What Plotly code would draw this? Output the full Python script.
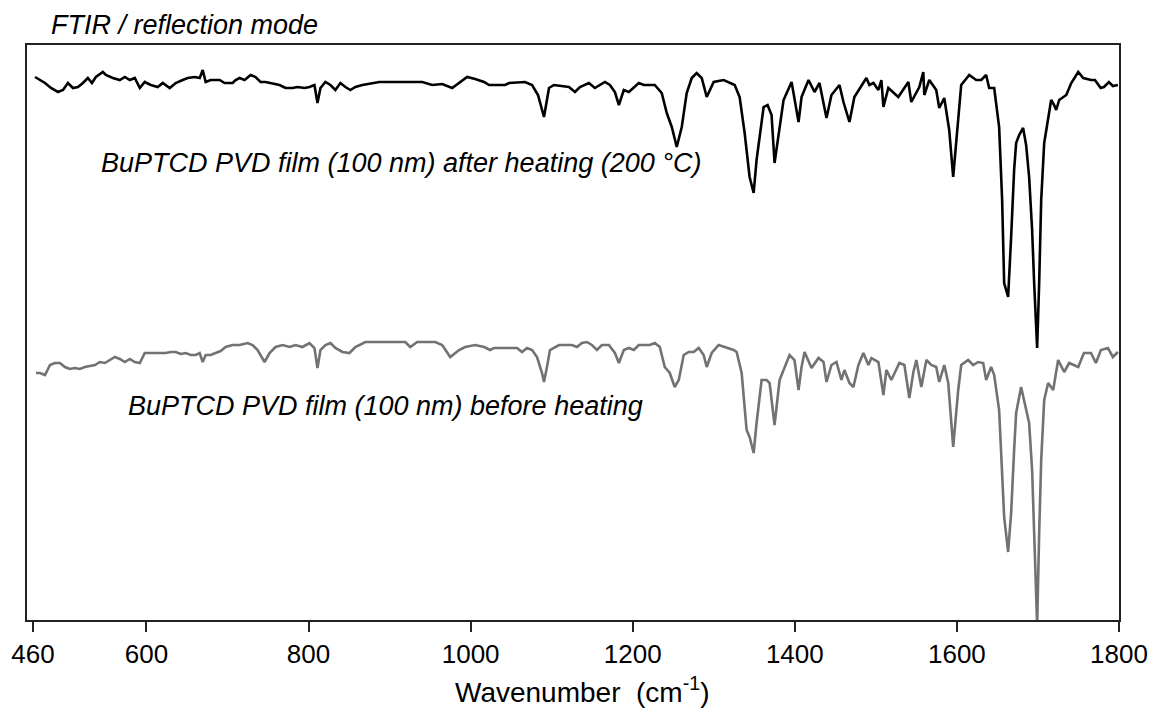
import plotly.graph_objects as go

# ---- data (wavenumber in cm-1, intensity in arbitrary offset units) ----
after_wn = [462.5, 474.8, 482.2, 490.8, 497.0, 503.1, 509.3, 515.4, 521.6, 527.7, 532.7, 537.6, 546.2, 549.9,
            558.5, 567.1, 573.3, 579.5, 585.6, 591.8, 597.9, 605.3, 613.9, 620.1, 628.7, 636.1, 644.7, 650.9,
            659.5, 665.7, 669.4, 673.1, 679.2, 690.3, 696.4, 706.3, 710.0, 714.9, 721.1, 728.5, 734.6, 740.8,
            746.9, 753.1, 764.2, 771.6, 780.2, 786.3, 795.0, 801.1, 807.3, 811.0, 814.7, 820.8, 827.0, 833.1,
            839.3, 845.5, 851.6, 857.8, 866.4, 887.3, 915.7, 940.3, 952.6, 965.0, 977.2, 985.8, 995.7, 1005.6,
            1016.6, 1022.8, 1042.5, 1047.4, 1067.1, 1075.8, 1083.1, 1090.5, 1096.7, 1102.8, 1121.3, 1128.7,
            1134.9, 1145.9, 1153.3, 1165.7, 1171.8, 1178.0, 1182.9, 1189.0, 1195.2, 1207.5, 1213.7, 1227.2,
            1235.8, 1242.0, 1248.2, 1254.3, 1260.5, 1266.6, 1272.8, 1278.9, 1285.1, 1291.3, 1299.9, 1312.2,
            1325.8, 1331.9, 1338.1, 1344.2, 1349.2, 1352.8, 1361.5, 1366.4, 1371.3, 1375.0, 1381.2, 1386.1,
            1396.0, 1404.6, 1408.3, 1416.9, 1424.3, 1430.4, 1439.1, 1445.2, 1455.1, 1460.0, 1467.4, 1473.5,
            1488.3, 1492.0, 1497.0, 1503.1, 1506.8, 1509.3, 1515.4, 1527.7, 1540.1, 1543.7, 1553.6, 1558.5,
            1559.8, 1565.9, 1574.5, 1578.2, 1584.4, 1590.5, 1595.4, 1600.4, 1605.3, 1615.2, 1623.8, 1630.0,
            1636.1, 1639.8, 1646.0, 1652.1, 1655.8, 1658.3, 1663.2, 1666.9, 1670.6, 1673.1, 1676.8, 1681.7,
            1685.4, 1689.1, 1692.8, 1695.3, 1699.0, 1701.5, 1704.0, 1707.7, 1716.3, 1720.0, 1722.5, 1726.2,
            1731.1, 1735.0, 1741.1, 1749.7, 1755.9, 1762.0, 1765.4, 1770.3, 1777.4, 1781.4, 1787.5, 1792.5,
            1798.6]
after_int = [54.3, 53.7, 53.2, 52.8, 53.0, 53.7, 53.2, 53.3, 53.7, 54.2, 53.7, 54.3, 54.8, 54.5,
             54.2, 54.0, 54.3, 54.0, 54.2, 53.2, 53.8, 53.5, 53.3, 53.7, 53.2, 53.7, 54.0, 54.2,
             54.3, 54.2, 55.0, 53.8, 54.0, 54.0, 53.7, 53.7, 54.0, 54.2, 54.0, 54.5, 54.3, 53.8,
             53.8, 53.7, 53.5, 53.2, 53.2, 53.3, 53.2, 53.3, 53.5, 51.7, 53.2, 53.8, 53.5, 53.0,
             53.7, 53.3, 53.0, 53.3, 53.5, 53.8, 53.8, 53.8, 53.5, 53.6, 53.2, 53.7, 54.3, 54.1,
             53.8, 53.5, 53.5, 53.7, 53.8, 53.5, 52.5, 50.3, 53.2, 53.5, 53.3, 52.8,
             53.3, 53.7, 53.2, 53.8, 53.5, 52.8, 51.5, 53.0, 52.8, 53.7, 53.5, 53.5,
             52.7, 50.7, 49.3, 47.3, 49.3, 52.7, 54.2, 54.7, 54.2, 52.3, 53.8, 54.0,
             53.5, 52.3, 48.7, 44.3, 42.7, 46.0, 51.3, 51.5, 50.5, 45.7, 49.3, 52.0,
             53.8, 49.8, 52.3, 54.0, 52.8, 53.7, 50.2, 52.5, 53.5, 51.8, 49.8, 52.3,
             54.2, 53.5, 53.7, 53.0, 54.0, 51.3, 53.2, 52.3, 53.8, 51.8, 53.3, 54.8,
             52.5, 54.0, 53.0, 51.2, 52.2, 49.0, 44.3, 49.0, 53.5, 54.5, 54.0, 54.0,
             54.5, 53.2, 53.2, 49.3, 42.0, 33.7, 32.3, 38.3, 45.0, 47.7, 48.5, 49.2,
             47.5, 44.3, 39.0, 33.7, 27.2, 33.7, 42.0, 47.7, 52.0, 51.5, 51.0, 52.0,
             52.3, 52.5, 53.7, 54.8, 54.2, 54.1, 54.0, 54.0, 53.2, 53.3, 53.8, 53.4,
             53.5]

before_wn = [463.7, 468.6, 474.8, 480.9, 487.1, 493.2, 499.4, 505.6, 511.7, 517.9, 524.0, 530.2, 536.4, 542.5,
             548.7, 554.8, 561.0, 567.1, 573.3, 579.5, 585.6, 591.8, 597.9, 604.1, 611.5, 617.6, 623.8, 629.9,
             636.1, 642.3, 648.4, 654.6, 660.7, 665.7, 669.4, 673.1, 679.2, 685.4, 691.5, 697.7, 706.3, 714.9,
             724.8, 730.9, 737.1, 745.7, 751.9, 759.3, 767.9, 776.5, 783.9, 792.5, 801.1, 807.3, 811.0, 814.7,
             820.8, 827.0, 833.1, 841.8, 850.4, 857.8, 870.1, 891.0, 919.3, 925.5, 934.1, 956.3, 964.9, 974.8,
             985.8, 993.2, 1005.6, 1016.6, 1024.0, 1028.9, 1057.3, 1063.4, 1069.6, 1075.8, 1081.9, 1088.1,
             1090.5, 1094.2, 1097.9, 1109.0, 1125.0, 1131.2, 1137.3, 1143.5, 1149.6, 1155.8, 1162.0, 1170.6,
             1178.0, 1182.9, 1189.0, 1195.2, 1201.4, 1207.5, 1221.1, 1227.2, 1233.4, 1239.5, 1245.7, 1251.8,
             1256.8, 1262.9, 1269.1, 1275.2, 1281.4, 1287.5, 1291.3, 1297.4, 1306.0, 1313.4, 1324.5, 1328.2,
             1334.4, 1340.5, 1344.2, 1349.2, 1352.8, 1359.0, 1365.2, 1368.9, 1375.0, 1381.2, 1387.3, 1393.5,
             1399.6, 1404.6, 1408.3, 1412.0, 1420.6, 1429.2, 1435.4, 1439.1, 1445.2, 1451.4, 1457.5, 1461.2,
             1467.4, 1472.3, 1478.5, 1484.6, 1490.8, 1494.5, 1503.1, 1509.3, 1513.0, 1519.1, 1529.0, 1535.2,
             1541.3, 1546.3, 1549.9, 1556.1, 1562.3, 1568.4, 1574.5, 1578.2, 1584.4, 1589.3, 1595.4, 1601.6,
             1605.3, 1613.9, 1620.1, 1626.2, 1632.4, 1636.1, 1642.2, 1646.0, 1652.1, 1655.8, 1658.3, 1663.2,
             1666.9, 1670.6, 1673.1, 1679.2, 1685.4, 1689.1, 1692.8, 1695.3, 1699.0, 1701.5, 1704.0, 1707.7,
             1712.6, 1718.8, 1724.9, 1732.4, 1738.5, 1749.7, 1756.7, 1765.4, 1771.5, 1777.7, 1786.3, 1792.5,
             1798.6]
before_int = [24.7, 24.7, 24.5, 25.5, 25.7, 25.7, 25.3, 25.1, 25.2, 25.1, 25.3, 25.4, 25.5, 25.8,
              25.7, 26.0, 26.3, 26.1, 25.8, 26.1, 25.8, 25.7, 26.7, 26.7, 26.7, 26.7, 26.7, 26.8,
              26.8, 26.6, 26.7, 26.5, 26.5, 26.7, 25.8, 26.5, 26.5, 26.7, 26.9, 27.3, 27.5, 27.5,
              27.7, 27.5, 27.0, 25.8, 26.7, 27.3, 27.5, 27.3, 27.5, 27.3, 27.7, 27.2, 25.2, 27.0,
              27.5, 27.7, 27.2, 26.8, 26.7, 27.3, 27.8, 27.8, 27.8, 27.3, 27.8, 27.8, 27.5, 26.3,
              27.0, 27.3, 27.5, 27.3, 27.0, 27.2, 27.2, 26.8, 27.2, 27.0, 26.3, 24.7,
              23.8, 25.3, 27.0, 27.5, 27.5, 27.3, 27.7, 27.8, 27.5, 27.0, 27.5, 27.5,
              26.7, 25.7, 27.0, 27.2, 27.0, 27.5, 27.5, 27.7, 27.3, 25.3, 24.7, 23.3,
              24.0, 26.5, 26.8, 26.8, 27.2, 26.5, 25.3, 26.7, 27.5, 27.3, 27.0, 26.8,
              24.7, 19.0, 18.3, 16.7, 19.7, 24.0, 24.0, 23.7, 19.5, 24.0, 25.3, 26.5,
              26.0, 23.0, 25.3, 26.8, 25.2, 26.2, 25.8, 23.8, 25.5, 25.8, 24.0, 25.0,
              23.7, 23.3, 25.5, 26.7, 25.5, 26.2, 25.8, 22.5, 25.0, 24.0, 25.7, 25.5,
              22.2, 24.8, 26.0, 23.3, 26.0, 25.5, 25.3, 23.8, 25.5, 23.7, 17.3, 23.0,
              25.5, 26.0, 25.5, 25.8, 25.7, 24.0, 25.3, 24.5, 21.0, 15.0, 10.3, 6.8,
              10.7, 17.0, 20.7, 23.3, 21.0, 19.7, 15.0, 8.7, -0.5, 8.7, 16.0, 22.0,
              23.7, 23.0, 26.0, 24.8, 25.7, 25.3, 26.7, 26.7, 25.7, 27.0, 27.2, 26.3,
              26.8]

tick_vals = [460, 600, 800, 1000, 1200, 1400, 1600, 1800]
tick_text = ["460", "600", "800", "1000", "1200", "1400", "1600", "1800"]

title_text = "<i>FTIR / reflection mode</i>"
after_label = "<i>BuPTCD PVD film (100 nm) after heating (200 °C)</i>"
before_label = "<i>BuPTCD PVD film (100 nm) before heating</i>"
x_title = "Wavenumber  (cm<sup>-1</sup>)"

FONT = "Arial, 'Liberation Sans', sans-serif"

fig = go.Figure()
fig.add_trace(go.Scatter(x=after_wn, y=after_int, mode="lines",
                         line=dict(color="#000000", width=2.6), showlegend=False))
fig.add_trace(go.Scatter(x=before_wn, y=before_int, mode="lines",
                         line=dict(color="#727272", width=2.6), showlegend=False))

fig.update_layout(
    width=1154, height=721,
    margin=dict(l=27, r=35, t=45, b=101, autoexpand=False),
    paper_bgcolor="white", plot_bgcolor="white",
    font=dict(family=FONT, color="#000000"),
    xaxis=dict(range=[452.6, 1800], tickmode="array", tickvals=tick_vals, ticktext=tick_text,
               ticks="outside", ticklen=10, tickwidth=1.5, tickcolor="#222",
               showline=True, linecolor="#222", linewidth=1.5, mirror=True, automargin=False,
               showgrid=False, zeroline=False, tickfont=dict(size=26, family=FONT, color="#000")),
    yaxis=dict(range=[0, 57.5], showticklabels=False, ticks="",
               showline=True, linecolor="#222", linewidth=1.5, mirror=True, automargin=False,
               showgrid=False, zeroline=False),
    annotations=[
        dict(text=title_text, xref="paper", yref="paper", x=0.020, y=1.035,
             xanchor="left", yanchor="middle", showarrow=False,
             font=dict(size=27, family=FONT, color="#000")),
        dict(text=after_label, xref="x", yref="y", x=541, y=45.7,
             xanchor="left", yanchor="middle", showarrow=False,
             font=dict(size=27, family=FONT, color="#000")),
        dict(text=before_label, xref="x", yref="y", x=575, y=21.4,
             xanchor="left", yanchor="middle", showarrow=False,
             font=dict(size=27, family=FONT, color="#000")),
        dict(text=x_title, xref="paper", yref="paper", x=0.508, y=-0.122,
             xanchor="center", yanchor="middle", showarrow=False,
             font=dict(size=28, family=FONT, color="#000")),
    ],
)

fig.write_html("out.html", config={"displayModeBar": False},
               post_script="document.body.style.margin='0';document.body.style.padding='0';")
